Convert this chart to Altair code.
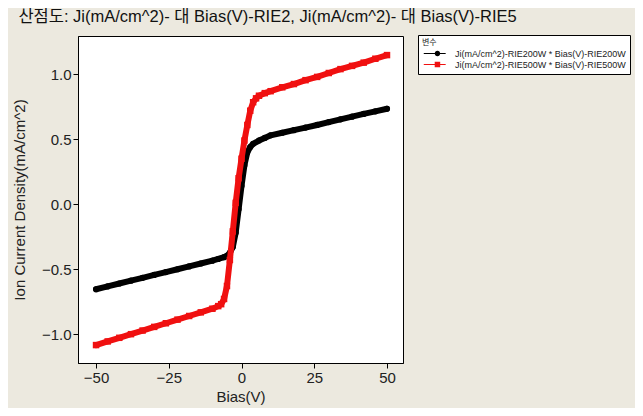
import altair as alt
import pandas as pd

S1 = "Ji(mA/cm^2)-RIE200W * Bias(V)-RIE200W"
S2 = "Ji(mA/cm^2)-RIE500W * Bias(V)-RIE500W"

bias_200 = [-50, -46, -42, -38, -34, -30, -26, -22, -18, -14, -10, -8, -6, -5, -4, -3, -2, -1,
            0, 1, 2, 3, 4, 6, 8, 10, 14, 18, 22, 26, 30, 34, 38, 42, 46, 50]
ji_200 = [-0.655, -0.633, -0.611, -0.589, -0.567, -0.545, -0.523, -0.501, -0.479, -0.457,
          -0.435, -0.422, -0.408, -0.398, -0.375, -0.33, -0.22, -0.04,
          0.14, 0.30, 0.40, 0.44, 0.465, 0.49, 0.51, 0.53, 0.55, 0.57, 0.59, 0.61,
          0.632, 0.653, 0.674, 0.695, 0.715, 0.735]

bias_500 = [-50, -46, -42, -38, -34, -30, -26, -22, -18, -14, -10, -8, -7, -6, -5, -4, -3, -2, -1,
            0, 1, 2, 3, 4, 5, 6, 8, 10, 14, 18, 22, 26, 30, 34, 38, 42, 46, 50]
ji_500 = [-1.085, -1.057, -1.029, -1.001, -0.973, -0.945, -0.917, -0.889, -0.861, -0.833,
          -0.805, -0.785, -0.77, -0.73, -0.63, -0.43, -0.21, 0.01, 0.20,
          0.35, 0.49, 0.61, 0.72, 0.785, 0.815, 0.835, 0.855, 0.87, 0.90, 0.925, 0.955, 0.98,
          1.01, 1.04, 1.065, 1.09, 1.12, 1.148]

x_ticks = [-50, -25, 0, 25, 50]
y_ticks = [-1.0, -0.5, 0.0, 0.5, 1.0]

df = pd.concat([
    pd.DataFrame({"series": S1, "bias": bias_200, "ji": ji_200}),
    pd.DataFrame({"series": S2, "bias": bias_500, "ji": ji_500}),
], ignore_index=True)

FONT = "Liberation Sans, Noto Sans CJK KR, sans-serif"

x_enc = alt.X("bias:Q", title="Bias(V)",
              scale=alt.Scale(domain=[-56.2, 55.5], nice=False, zero=False),
              axis=alt.Axis(values=x_ticks, format="d", grid=False))
y_enc = alt.Y("ji:Q", title="Ion Current Density(mA/cm^2)",
              scale=alt.Scale(domain=[-1.223, 1.295], nice=False, zero=False),
              axis=alt.Axis(values=y_ticks, format=".1f", grid=False))
color_scale = alt.Scale(domain=[S1, S2], range=["#000000", "#f01010"])
col = alt.Color("series:N", scale=color_scale, legend=None)

base = alt.Chart(df)

def series_layers(name, shape, size):
    b = base.transform_filter(alt.datum.series == name)
    line = b.mark_line(strokeWidth=6, strokeCap="round", strokeJoin="round").encode(
        x=x_enc, y=y_enc, color=col)
    pts = b.mark_point(filled=True, shape=shape, size=size, opacity=1).encode(
        x=x_enc, y=y_enc, color=col)
    return [line, pts]

circle_path = "M-1,-0.2H3.2V0.2H-1Z M4.8,-0.2H7V0.2H4.8Z M5,0A1,1 0 1,1 3,0A1,1 0 1,1 5,0Z"
square_path = "M-1,-0.2H3V0.2H-1Z M5,-0.2H7V0.2H5Z M3,-1H5V1H3Z"

legend_layer = base.mark_point(filled=True, opacity=0).encode(
    x=x_enc, y=y_enc,
    color=alt.Color("series:N", scale=alt.Scale(domain=[S1, S2], range=["#000000", "#f01010"]),
                    title="변수",
                    legend=alt.Legend(orient="none", legendX=340, legendY=-1)),
    shape=alt.Shape("series:N", scale=alt.Scale(domain=[S1, S2], range=[circle_path, square_path]),
                    title="변수",
                    legend=alt.Legend(orient="none", legendX=340, legendY=-1)),
)

layers = series_layers(S1, "circle", 38) + series_layers(S2, "square", 42) + [legend_layer]

chart = alt.layer(*layers).resolve_scale(
    color="independent", shape="independent"
).properties(
    width=325, height=327,
    padding={"left": 70, "top": 28, "right": 232, "bottom": 45},
    autosize=alt.AutoSizeParams(type="none"),
    background="#ECE9DF",
    title=alt.TitleParams(
        "산점도: Ji(mA/cm^2)- 대 Bias(V)-RIE2, Ji(mA/cm^2)- 대 Bias(V)-RIE5",
        anchor="start", dx=6, offset=9, fontSize=16.5, fontWeight="normal",
        font=FONT, color="#111111"),
).configure_view(
    fill="white", stroke="black", strokeWidth=1
).configure_axis(
    labelFont=FONT, titleFont=FONT, labelFontSize=15, titleFontSize=15,
    labelColor="#222222", titleColor="#222222", titleFontWeight="normal",
    tickColor="black", domainColor="black", tickSize=5, labelPadding=2,
).configure_axisX(
    titlePadding=4,
).configure_axisY(
    titlePadding=14,
).configure_legend(
    labelFont=FONT, titleFont=FONT, labelFontSize=9, titleFontSize=8,
    titleFontWeight="normal", labelColor="#222222", titleColor="#222222",
    strokeColor="black", fillColor="white", padding=4, symbolSize=30,
    symbolStrokeWidth=0, symbolOpacity=1, labelOffset=24, rowPadding=1,
    titlePadding=2, labelLimit=300, cornerRadius=0,
)

chart.save("out.html", embed_options={"renderer": "svg", "actions": False})
